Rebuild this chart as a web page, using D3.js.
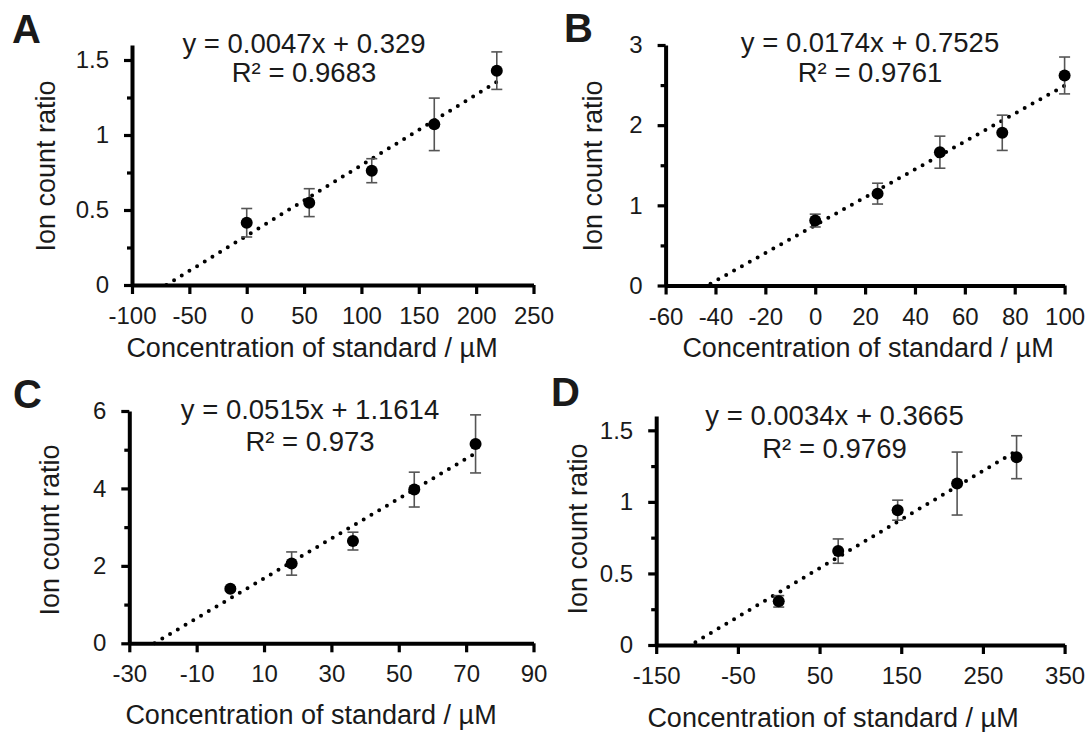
<!DOCTYPE html>
<html>
<head>
<meta charset="utf-8">
<script src="https://cdn.jsdelivr.net/npm/d3@7"></script>
<style>
  html, body { margin: 0; padding: 0; background: #fff; }
  svg { display: block; }
  text { font-family: "Liberation Sans", Arial, Helvetica, sans-serif; fill: #1a1a1a; }
</style>
</head>
<body>
<svg id="chart" width="1090" height="732"></svg>
<script>
// ---------- data ----------
const panelLabels = ["A", "B", "C", "D"];

const concA = [0, 54.5, 109, 163.5, 218];
const ratioA = [0.415, 0.549, 0.762, 1.071, 1.429];
const errA = [0.095, 0.093, 0.08, 0.175, 0.125];

const concB = [0, 25, 50, 75, 100];
const ratioB = [0.81, 1.146, 1.663, 1.905, 2.62];
const errB = [0.08, 0.13, 0.2, 0.22, 0.23];

const concC = [0, 18.2, 36.4, 54.6, 72.8];
const ratioC = [1.41, 2.06, 2.64, 3.97, 5.15];
const errC = [0.05, 0.3, 0.23, 0.45, 0.75];

const concD = [0, 72.8, 145.6, 218.4, 291.2];
const ratioD = [0.305, 0.656, 0.942, 1.128, 1.312];
const errD = [0.04, 0.085, 0.07, 0.22, 0.15];

const slopes = [0.0047, 0.0174, 0.0515, 0.0034];
const intercepts = [0.329, 0.7525, 1.1614, 0.3665];
const slopeLabels = ["0.0047", "0.0174", "0.0515", "0.0034"];
const interceptLabels = ["0.329", "0.7525", "1.1614", "0.3665"];
const r2Labels = ["0.9683", "0.9761", "0.973", "0.9769"];
const trendStart = [-70, -42, -22.5, -102];

const xTicksA = [-100, -50, 0, 50, 100, 150, 200, 250];
const xTicksB = [-60, -40, -20, 0, 20, 40, 60, 80, 100];
const xTicksC = [-30, -10, 10, 30, 50, 70, 90];
const xTicksD = [-150, -50, 50, 150, 250, 350];

const yTicksA = [0, 0.5, 1, 1.5];
const yTicksB = [0, 1, 2, 3];
const yTicksC = [0, 2, 4, 6];
const yTicksD = [0, 0.5, 1, 1.5];

const yMinorA = [0.25, 0.75, 1.25];
const yMinorB = [0.5, 1.5, 2.5];
const yMinorC = [1, 3, 5];
const yMinorD = [0.25, 0.75, 1.25];

const xDomains = [[-100, 250], [-60, 100], [-30, 90], [-150, 350]];
const yDomains = [[0, 1.6], [0, 3], [0, 6], [0, 1.6]];

const xTitle = "Concentration of standard / µM";
const yTitle = "Ion count ratio";

// ---------- layout (pixels) ----------
const layout = [
  { left: 132,   right: 533.5,  bottom: 285,   top: 45,  label: [12, 43],   eq: [304, 53, 82],   xt: [312, 357], yt: [55, 166] },
  { left: 665.6, right: 1064.6, bottom: 285.5, top: 45,  label: [564, 42],  eq: [870, 52, 82],   xt: [868, 357], yt: [602, 166] },
  { left: 129.3, right: 533.5,  bottom: 643.3, top: 411, label: [13, 408],  eq: [310, 419, 451], xt: [311, 724], yt: [59, 530] },
  { left: 656.2, right: 1064.6, bottom: 645,   top: 416, label: [551, 406], eq: [834.5, 425, 458], xt: [833, 727], yt: [587, 529] }
];

const concs = [concA, concB, concC, concD];
const ratios = [ratioA, ratioB, ratioC, ratioD];
const errs = [errA, errB, errC, errD];
const xTicks = [xTicksA, xTicksB, xTicksC, xTicksD];
const yTicks = [yTicksA, yTicksB, yTicksC, yTicksD];
const yMinor = [yMinorA, yMinorB, yMinorC, yMinorD];

const svg = d3.select("#chart");

panelLabels.forEach((lab, i) => {
  const L = layout[i];
  const x = d3.scaleLinear().domain(xDomains[i]).range([L.left, L.right]);
  const y = d3.scaleLinear().domain(yDomains[i]).range([L.bottom, L.top]);
  const g = svg.append("g");

  // trendline (dotted)
  const x0 = trendStart[i];
  const x1 = d3.max(concs[i]);
  const tl = [[x0, slopes[i] * x0 + intercepts[i]], [x1, slopes[i] * x1 + intercepts[i]]];
  g.append("path")
    .attr("d", d3.line().x(d => x(d[0])).y(d => y(d[1]))(tl))
    .attr("fill", "none")
    .attr("stroke", "#000")
    .attr("stroke-width", 4)
    .attr("stroke-linecap", "round")
    .attr("stroke-dasharray", "0 9");

  // error bars
  const pts = concs[i].map((c, k) => ({ c, r: ratios[i][k], e: errs[i][k] }));
  const eb = g.append("g").attr("stroke", "#555").attr("stroke-width", 1.6);
  pts.forEach(p => {
    eb.append("line").attr("x1", x(p.c)).attr("x2", x(p.c)).attr("y1", y(p.r - p.e)).attr("y2", y(p.r + p.e));
    eb.append("line").attr("x1", x(p.c) - 5.5).attr("x2", x(p.c) + 5.5).attr("y1", y(p.r + p.e)).attr("y2", y(p.r + p.e));
    eb.append("line").attr("x1", x(p.c) - 5.5).attr("x2", x(p.c) + 5.5).attr("y1", y(p.r - p.e)).attr("y2", y(p.r - p.e));
  });

  // markers
  g.selectAll("circle.pt").data(pts).enter().append("circle")
    .attr("class", "pt")
    .attr("cx", d => x(d.c)).attr("cy", d => y(d.r)).attr("r", 6)
    .attr("fill", "#000");

  // y minor ticks
  const yMin = g.append("g").attr("transform", `translate(${L.left},0)`)
    .call(d3.axisLeft(y).tickValues(yMinor[i]).tickSize(5).tickFormat(""));
  yMin.select(".domain").remove();
  yMin.selectAll("line").attr("stroke", "#000").attr("stroke-width", 3.2);

  // y axis
  const yAx = g.append("g").attr("transform", `translate(${L.left},0)`)
    .call(d3.axisLeft(y).tickValues(yTicks[i]).tickSize(8).tickSizeOuter(0).tickPadding(15)
      .tickFormat(d => String(d)));
  yAx.select(".domain").attr("stroke", "#000").attr("stroke-width", 4);
  yAx.selectAll("line").attr("stroke", "#000").attr("stroke-width", 3.2);
  yAx.selectAll("text").attr("font-size", 24).attr("fill", "#1a1a1a")
    .attr("font-family", "'Liberation Sans', Arial, sans-serif");

  // x axis
  const xAx = g.append("g").attr("transform", `translate(0,${L.bottom})`)
    .call(d3.axisBottom(x).tickValues(xTicks[i]).tickSize(9).tickSizeOuter(0).tickPadding(13)
      .tickFormat(d => String(d)));
  xAx.select(".domain").attr("stroke", "#000").attr("stroke-width", 4);
  xAx.selectAll("line").attr("stroke", "#000").attr("stroke-width", 3.2);
  xAx.selectAll("text").attr("font-size", 24).attr("fill", "#1a1a1a")
    .attr("font-family", "'Liberation Sans', Arial, sans-serif");

  // equation
  g.append("text").attr("x", L.eq[0]).attr("y", L.eq[1]).attr("text-anchor", "middle")
    .attr("font-size", 27.5)
    .text(`y = ${slopeLabels[i]}x + ${interceptLabels[i]}`);
  g.append("text").attr("x", L.eq[0]).attr("y", L.eq[2]).attr("text-anchor", "middle")
    .attr("font-size", 27.5)
    .text(`R² = ${r2Labels[i]}`);

  // axis titles
  g.append("text").attr("x", L.xt[0]).attr("y", L.xt[1]).attr("text-anchor", "middle")
    .attr("font-size", 27).text(xTitle);
  g.append("text").attr("transform", `translate(${L.yt[0]},${L.yt[1]}) rotate(-90)`)
    .attr("text-anchor", "middle").attr("font-size", 27).text(yTitle);

  // panel letter
  g.append("text").attr("x", L.label[0]).attr("y", L.label[1])
    .attr("font-size", 40).attr("font-weight", "bold").attr("fill", "#000").text(lab);
});
</script>
</body>
</html>
